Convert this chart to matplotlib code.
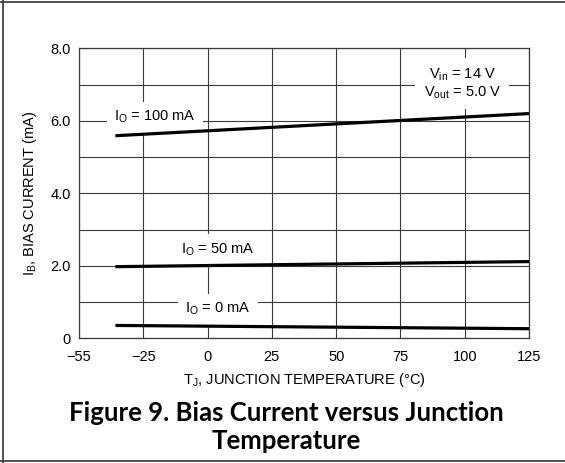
import numpy as np
import matplotlib
matplotlib.use('Agg')
import matplotlib.pyplot as plt
from matplotlib.lines import Line2D

plt.rcParams['font.family'] = ['Liberation Sans', 'DejaVu Sans']
plt.rcParams['mathtext.fontset'] = 'custom'
plt.rcParams['mathtext.rm'] = 'Liberation Sans'
plt.rcParams['mathtext.it'] = 'Liberation Sans'

# junction temperature tick values (grid is drawn evenly spaced per tick)
temp_ticks = [-55, -25, 0, 25, 50, 75, 100, 125]
bias_ticks = [0, 2, 4, 6, 8]
bias_tick_labels = ['0', '2.0', '4.0', '6.0', '8.0']

# bias current curves, (temp, mA) end points
temp = [-38, 125]
ib_100ma = [5.59, 6.20]
ib_50ma = [1.98, 2.12]
ib_0ma = [0.36, 0.27]


def fwd(t):
    return np.interp(t, temp_ticks, np.arange(len(temp_ticks)))


def inv(i):
    return np.interp(i, np.arange(len(temp_ticks)), temp_ticks)


fig = plt.figure(figsize=(5.65, 4.63), dpi=100)
ax = fig.add_axes([0.1398, 0.2689, 0.7965, 0.6268])
ax.set_xscale('function', functions=(fwd, inv))
ax.set_xlim(-55, 125)
ax.set_ylim(0, 8)

fs = 10.5
gridc = '#3a3a3a'
ax.set_xticks(temp_ticks)
ax.set_xticklabels(['\u221255', '\u221225', '0', '25', '50', '75', '100', '125'])
ax.set_yticks(bias_ticks)
ax.set_yticklabels(bias_tick_labels)
ax.set_yticks(np.arange(1, 8, 2), minor=True)
ax.xaxis.set_minor_locator(matplotlib.ticker.NullLocator())
ax.tick_params(which='both', length=0, labelsize=fs)
ax.tick_params(axis='x', pad=8)
ax.tick_params(axis='y', pad=6)
ax.grid(True, which='both', color=gridc, linewidth=0.8)
ax.set_axisbelow(True)
for s in ax.spines.values():
    s.set_color(gridc)
    s.set_linewidth(0.9)

for y in (ib_100ma, ib_50ma, ib_0ma):
    ax.plot(temp, y, color='black', linewidth=2.3, solid_capstyle='butt', zorder=5)

box = dict(boxstyle='square,pad=0.5', facecolor='white', edgecolor='none')
lab = dict(fontsize=fs, ha='center', va='center', bbox=box, zorder=4)
ax.text(-20.5, 6.1, r'I$_{\mathrm{O}}$ = 100 mA', **lab)
ax.text(4, 2.45, r'I$_{\mathrm{O}}$ = 50 mA', **lab)
ax.text(4, 0.81, r'I$_{\mathrm{O}}$ = 0 mA', **lab)
ax.text(99, 7.03, 'V$_{\\mathrm{in}}$ = 14 V\nV$_{\\mathrm{out}}$ = 5.0 V',
        fontsize=fs, ha='center', va='center', linespacing=1.15, zorder=4,
        bbox=dict(boxstyle='square,pad=0.55', facecolor='white', edgecolor='none'))

ax.set_ylabel(r'I$_{\mathrm{B}}$, BIAS CURRENT (mA)', fontsize=fs, va='center')
ax.yaxis.set_label_coords(-0.109, 0.5)
ax.set_xlabel(r'T$_{\mathrm{J}}$, JUNCTION TEMPERATURE (°C)', fontsize=fs, va='center')
ax.xaxis.set_label_coords(0.5, -0.143)

fig.text(286 / 565, 1 - 427 / 463, 'Figure 9. Bias Current versus Junction\nTemperature',
         family='Lato', fontweight='bold', fontsize=18.5, ha='center', va='center',
         multialignment='center', linespacing=1.2)

# page frame
bc = '#333333'
fig.add_artist(Line2D([3 / 565, 3 / 565], [0, 1], color=bc, linewidth=1.2))
fig.add_artist(Line2D([0, 1], [1 - 2 / 463, 1 - 2 / 463], color=bc, linewidth=1.2))
fig.add_artist(Line2D([0, 1], [1 - 461 / 463, 1 - 461 / 463], color=bc, linewidth=1.2))

fig.savefig('out.png', dpi=100)
